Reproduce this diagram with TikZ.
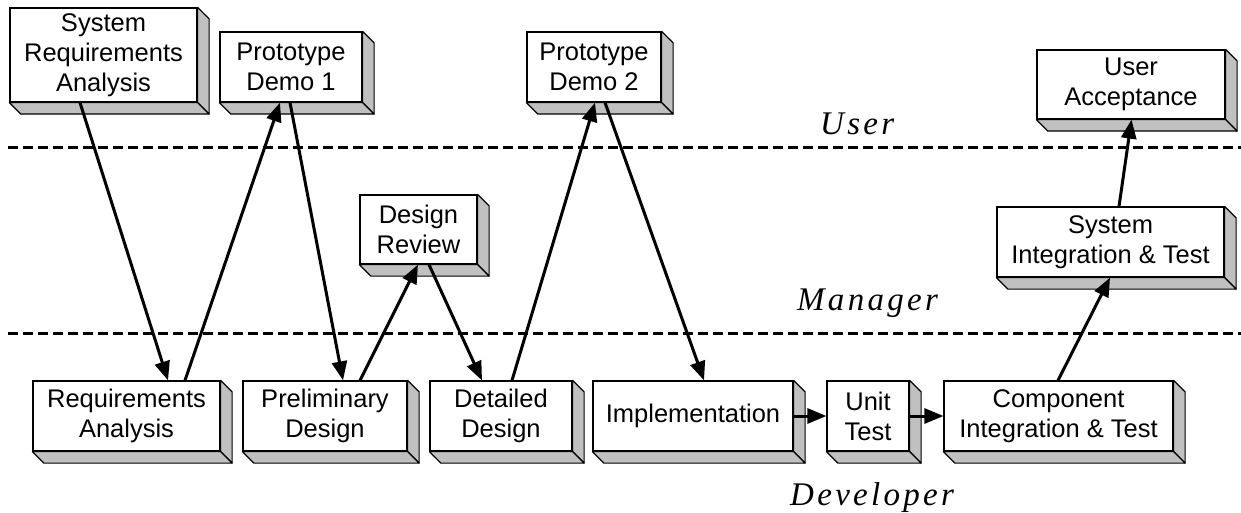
\documentclass[tikz,border=0pt]{standalone}
\usepackage{fontspec}
\setmainfont{Liberation Sans}
\newfontfamily\lanefont[LetterSpace=10]{Liberation Serif}
\usetikzlibrary{arrows.meta}
\definecolor{sidegray}{HTML}{C0C0C0}
\tikzset{
  block/.style={draw=black, line width=1.2pt, fill=white, inner sep=0pt,
    align=center, font=\fontsize{25.5}{30}\selectfont},
  face/.style={draw=black, line width=1.2pt, fill=sidegray, line join=round},
  flow/.style={line width=3pt, -{Triangle[length=19pt,width=15pt]}},
  lane/.style={line width=3pt, dash pattern=on 10pt off 5pt},
  lanelabel/.style={anchor=base west, inner sep=0pt, font=\lanefont\itshape\fontsize{33}{33}\selectfont}
}
\begin{document}
\begin{tikzpicture}[x=1pt,y=-1pt]
\useasboundingbox (0,0) rectangle (1241,513);

% swim-lane separators
\draw[lane] (8,148) -- (1241,148);
\draw[lane] (8,333) -- (1241,333);
\node[lanelabel] (luser) at (820,135) {User};
\node[lanelabel] (lmgr) at (797,310) {Manager};
\node[lanelabel] (ldev) at (790,505) {Developer};

% activity blocks (front faces)
\node[block, minimum width=187pt, minimum height=94pt] (sra) at (103.5,55) {System\\Requirements\\Analysis};
\node[block, minimum width=142pt, minimum height=70pt] (pd1) at (291,67) {Prototype\\Demo 1};
\node[block, minimum width=134pt, minimum height=70pt] (pd2) at (594,67) {Prototype\\Demo 2};
\node[block, minimum width=188pt, minimum height=69pt] (ua) at (1131,84.5) {User\\Acceptance};
\node[block, minimum width=117pt, minimum height=69pt] (dr) at (418.5,229.5) {Design\\Review};
\node[block, minimum width=227pt, minimum height=70pt] (sit) at (1110.5,242) {System\\Integration \& Test};
\node[block, minimum width=187pt, minimum height=70pt] (ra) at (126.5,416) {Requirements\\Analysis};
\node[block, minimum width=164pt, minimum height=70pt] (pdg) at (325,416) {Preliminary\\Design};
\node[block, minimum width=142pt, minimum height=70pt] (dd) at (501,416) {Detailed\\Design};
\node[block, minimum width=200pt, minimum height=70pt] (impl) at (693,416) {Implementation};
\node[block, minimum width=82pt, minimum height=70pt] (ut) at (868,416) {Unit\\Test};
\node[block, minimum width=229pt, minimum height=70pt] (cit) at (1058.5,416) {Component\\Integration \& Test};

% extruded side and bottom faces
\foreach \n in {sra,pd1,pd2,ua,dr,sit,ra,pdg,dd,impl,ut,cit}{
  \draw[face] (\n.north east) -- ++(11.5,11.5) -- ([shift={(11.5pt,-11.5pt)}]\n.south east) -- (\n.south east) -- cycle;
  \draw[face] (\n.south west) -- (\n.south east) -- ([shift={(11.5pt,-11.5pt)}]\n.south east) -- ([shift={(11.5pt,-11.5pt)}]\n.south west) -- cycle;
}

% flow of work between the lanes
\draw[flow] ([xshift=-23.5pt]sra.south) -- ([xshift=41.5pt]ra.north);
\draw[flow] ([xshift=58.5pt]ra.north) -- ([xshift=-11pt]pd1.south);
\draw[flow] ([xshift=-1pt]pd1.south) -- ([xshift=18pt]pdg.north);
\draw[flow] ([xshift=35pt]pdg.north) -- ([xshift=-0.5pt]dr.south);
\draw[flow] ([xshift=10.5pt]dr.south) -- ([xshift=-19pt]dd.north);
\draw[flow] ([xshift=11pt]dd.north) -- ([xshift=1pt]pd2.south);
\draw[flow] ([xshift=11pt]pd2.south) -- ([xshift=11pt]impl.north);
\draw[flow] (impl.east) -- (ut.west);
\draw[flow] (ut.east) -- (cit.west);
\draw[flow] ([xshift=-0.5pt]cit.north) -- ([xshift=-0.5pt]sit.south);
\draw[flow] ([xshift=8.5pt]sit.north) -- ([xshift=0.5pt]ua.south);
\end{tikzpicture}
\end{document}
